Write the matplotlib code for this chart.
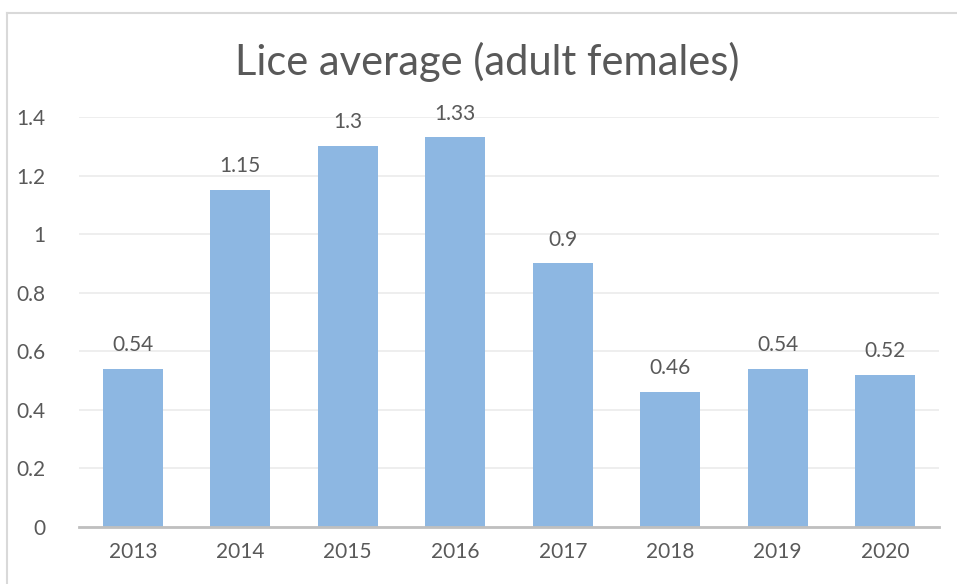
import matplotlib.pyplot as plt
from matplotlib.lines import Line2D

# Lice counts per year
years = ['2013', '2014', '2015', '2016', '2017', '2018', '2019', '2020']
lice_avg = [0.54, 1.15, 1.3, 1.33, 0.9, 0.46, 0.54, 0.52]
value_labels = ['0.54', '1.15', '1.3', '1.33', '0.9', '0.46', '0.54', '0.52']
y_ticks = [0, 0.2, 0.4, 0.6, 0.8, 1.0, 1.2, 1.4]
y_tick_labels = ['0', '0.2', '0.4', '0.6', '0.8', '1', '1.2', '1.4']

plt.rcParams['font.family'] = ['Lato', 'DejaVu Sans']
text_col = '#595959'

fig = plt.figure(figsize=(9.57, 5.84), dpi=100)
ax = fig.add_axes([79 / 957, 1 - 527 / 584, 860 / 957, 410 / 584])

x = range(len(years))
bars = ax.bar(x, lice_avg, width=0.56, color='#8db7e2', zorder=3)

for xi, v, lab in zip(x, lice_avg, value_labels):
    ax.annotate(lab, (xi, v), xytext=(0, 10), textcoords='offset points',
                ha='center', va='bottom', fontsize=15, color=text_col,
                annotation_clip=False)

ax.set_xlim(-0.5, len(years) - 0.5)
ax.set_ylim(0, 1.4)
ax.set_yticks(y_ticks)
ax.set_yticklabels(y_tick_labels)
ax.set_xticks(list(x))
ax.set_xticklabels(years)
ax.tick_params(axis='both', length=0, labelsize=15, colors=text_col)
ax.tick_params(axis='y', pad=24)
ax.tick_params(axis='x', pad=11)

ax.grid(axis='y', color='#ebebeb', linewidth=1.2, zorder=0)
for s in ['top', 'right', 'left']:
    ax.spines[s].set_visible(False)
ax.spines['bottom'].set_color('#bfbfbf')
ax.spines['bottom'].set_linewidth(2)
ax.spines['bottom'].set_zorder(4)

fig.text(487 / 957, 1 - 62 / 584, 'Lice average (adult females)', ha='center',
         va='center', fontsize=30, color=text_col)

# chart frame (left and top edges)
fig.add_artist(Line2D([7.5 / 957, 7.5 / 957], [0, 1 - 12.5 / 584],
                      transform=fig.transFigure, color='#d9d9d9', linewidth=1.5))
fig.add_artist(Line2D([7.5 / 957, 1], [1 - 12.5 / 584, 1 - 12.5 / 584],
                      transform=fig.transFigure, color='#d9d9d9', linewidth=1.5))

fig.savefig('out.png', dpi=100)
